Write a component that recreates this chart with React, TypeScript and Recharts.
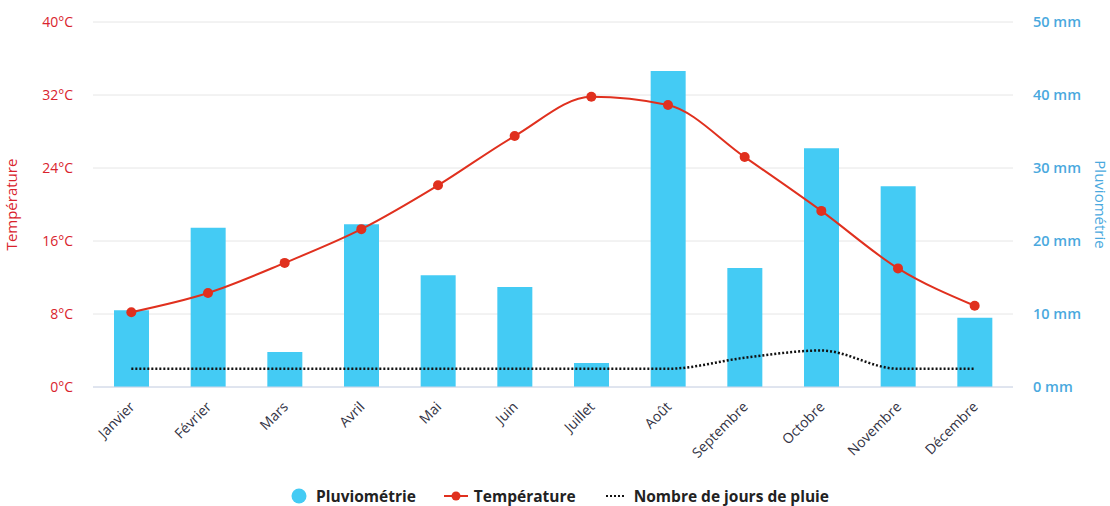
import React from 'react';
import { ComposedChart, Bar, Line, XAxis, YAxis, CartesianGrid, Legend } from 'recharts';

const months = ['Janvier', 'Février', 'Mars', 'Avril', 'Mai', 'Juin', 'Juillet', 'Août', 'Septembre', 'Octobre', 'Novembre', 'Décembre'];
const pluviometrie = [10.5, 21.8, 4.8, 22.3, 15.3, 13.7, 3.3, 43.3, 16.3, 32.7, 27.5, 9.5];
const temperature = [8.2, 10.3, 13.6, 17.3, 22.1, 27.5, 31.8, 30.9, 25.2, 19.3, 13.0, 8.9];
const joursPluie = [1, 1, 1, 1, 1, 1, 1, 1, 1.6, 2, 1, 1];
const tempTicks = [0, 8, 16, 24, 32, 40];
const rainTicks = [0, 10, 20, 30, 40, 50];

const data = months.map((m, i) => ({
  month: m,
  pluie: pluviometrie[i],
  temp: temperature[i],
  jours: joursPluie[i],
}));

const FONT = '"Open Sans", "Noto Sans", sans-serif';
const RED = '#e0301e';
const TEMP_TXT = '#d9232d';
const BLUE = '#44cbf4';
const BLUE_TXT = '#4aa9de';

const XTick = (props: any) => {
  const { x, y, payload } = props;
  return (
    <g transform={`translate(${x},${y})`}>
      <text x={0} y={0} dy={12} dx={-6} textAnchor="end" transform="rotate(-45)" fill="#333344" fontSize={14} fontFamily={FONT}>
        {payload.value}
      </text>
    </g>
  );
};

const LegendContent = () => (
  <div style={{ display: 'flex', justifyContent: 'center', alignItems: 'center', height: 30, fontFamily: FONT, fontWeight: 700, fontSize: 15.5, color: '#222', paddingLeft: 10 }}>
    <span style={{ display: 'flex', alignItems: 'center', marginRight: 28 }}>
      <svg width={16} height={16} style={{ marginRight: 9 }}>
        <circle cx={8} cy={8} r={7.5} fill={BLUE} />
      </svg>
      Pluviométrie
    </span>
    <span style={{ display: 'flex', alignItems: 'center', marginRight: 28 }}>
      <svg width={24} height={16} style={{ marginRight: 6 }}>
        <line x1={0} y1={8} x2={24} y2={8} stroke={RED} strokeWidth={2} />
        <circle cx={12} cy={8} r={4.5} fill={RED} />
      </svg>
      Température
    </span>
    <span style={{ display: 'flex', alignItems: 'center' }}>
      <svg width={24} height={16} style={{ marginRight: 6 }}>
        <line x1={2} y1={8} x2={22} y2={8} stroke="#111" strokeWidth={2} strokeDasharray="2 2" />
      </svg>
      Nombre de jours de pluie
    </span>
  </div>
);

export default function App() {
  return (
    <div style={{ position: 'absolute', left: 0, top: 0, width: 1110, height: 506, background: '#fff' }}>
      <ComposedChart width={1110} height={506} data={data} margin={{ top: 22, right: 0, bottom: 0, left: 0 }}>
        <CartesianGrid yAxisId="temp" vertical={false} stroke="#e6e6e6" />
        <XAxis dataKey="month" interval={0} tick={<XTick />} tickLine={false} axisLine={{ stroke: '#ccd6eb' }} height={89} />
        <YAxis
          yAxisId="temp"
          orientation="left"
          width={93}
          domain={[0, 40]}
          ticks={tempTicks}
          tickFormatter={(v: number) => `${v}°C`}
          axisLine={false}
          tickLine={false}
          tickMargin={14}
          tick={{ fill: TEMP_TXT, fontSize: 14, fontFamily: FONT }}
          label={{ value: 'Température', angle: -90, position: 'insideLeft', offset: 12, fill: TEMP_TXT, fontSize: 15, fontFamily: FONT, style: { textAnchor: 'middle' } }}
        />
        <YAxis
          yAxisId="rain"
          orientation="right"
          width={97}
          domain={[0, 50]}
          ticks={rainTicks}
          tickFormatter={(v: number) => `${v} mm`}
          axisLine={false}
          tickLine={false}
          tickMargin={14}
          tick={{ fill: BLUE_TXT, fontSize: 14.5, fontFamily: FONT, fontWeight: 600 }}
          label={{ value: 'Pluviométrie', angle: 90, position: 'insideRight', offset: 10, fill: BLUE_TXT, fontSize: 15, fontFamily: FONT, style: { textAnchor: 'middle' } }}
        />
        <YAxis yAxisId="days" orientation="right" hide width={0} domain={[0, 20]} />
        <Legend verticalAlign="bottom" content={<LegendContent />} wrapperStyle={{ bottom: -5 }} />
        <Bar yAxisId="rain" dataKey="pluie" name="Pluviométrie" fill={BLUE} barSize={35} isAnimationActive={false} />
        <Line yAxisId="temp" type="monotone" dataKey="temp" name="Température" stroke={RED} strokeWidth={2} dot={{ r: 5, fill: RED, stroke: RED, strokeWidth: 0 }} isAnimationActive={false} />
        <Line yAxisId="days" type="monotone" dataKey="jours" name="Nombre de jours de pluie" stroke="#111" strokeWidth={2.5} strokeDasharray="2 2" dot={false} isAnimationActive={false} />
      </ComposedChart>
    </div>
  );
}
